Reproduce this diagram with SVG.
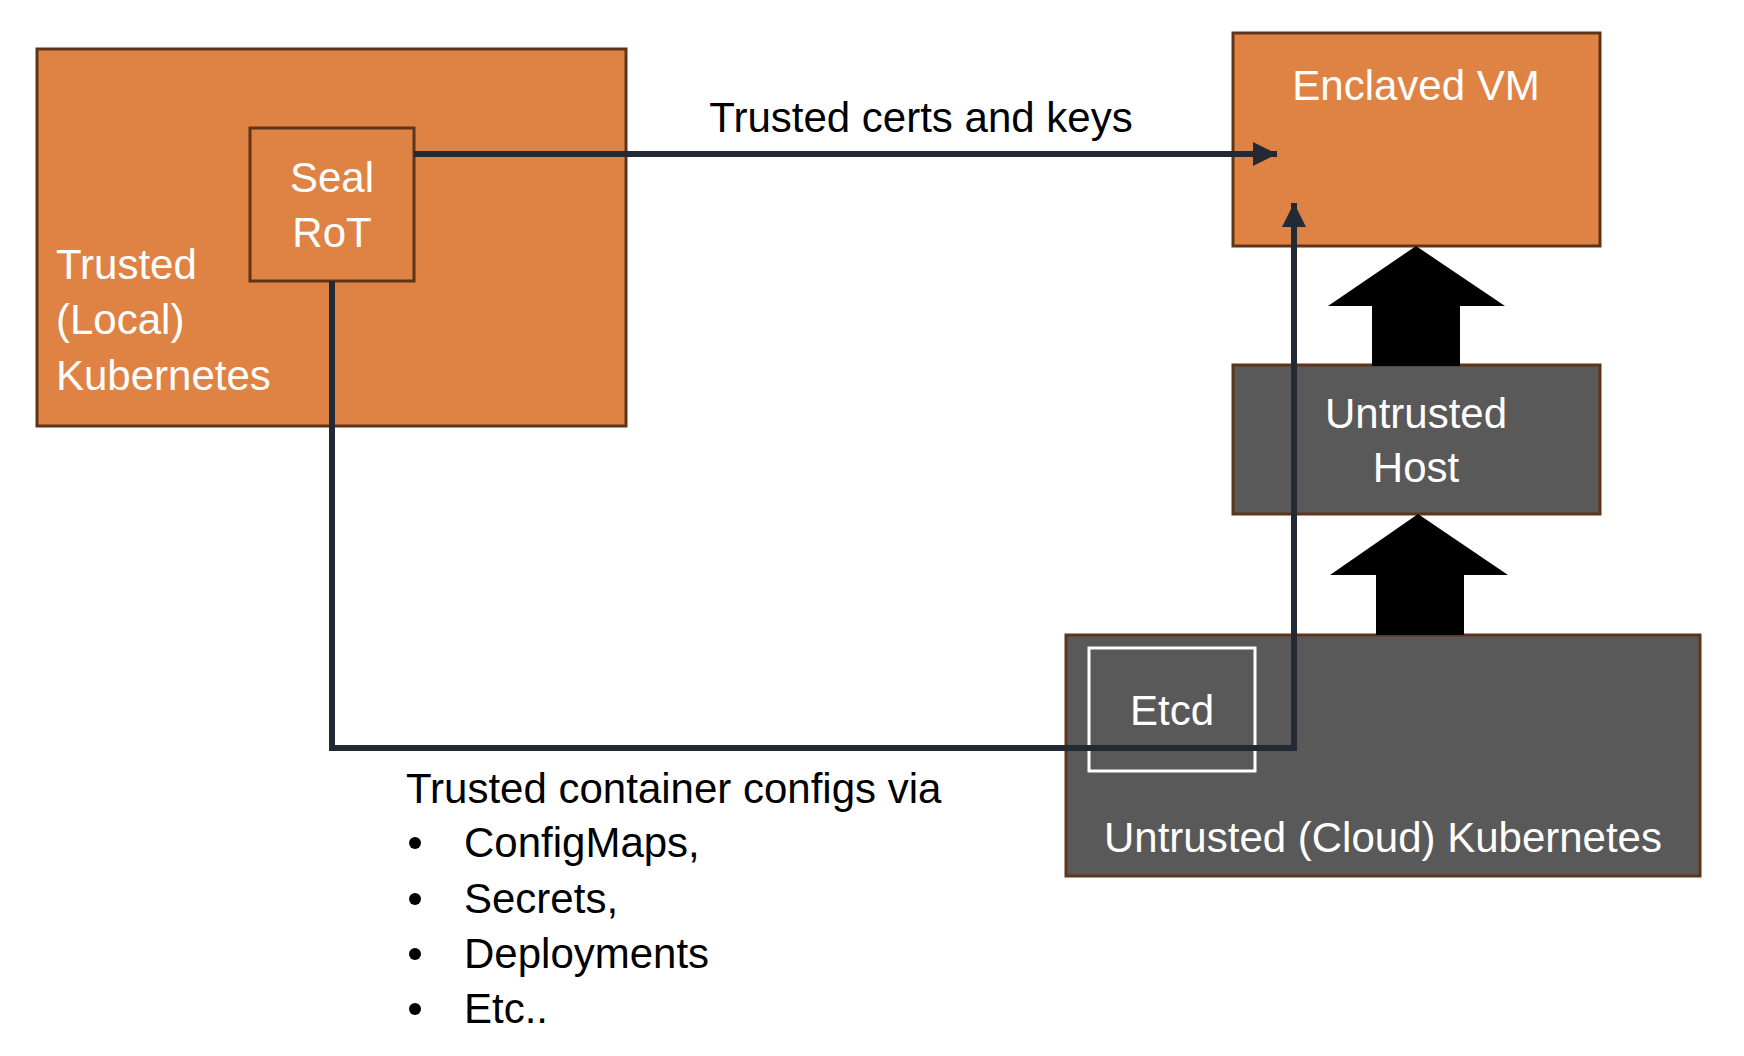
<svg xmlns="http://www.w3.org/2000/svg" width="1744" height="1056" viewBox="0 0 1744 1056">
<defs>
<style>
.orange{fill:#DF8344;stroke:#5E3518;stroke-width:3}
.gray{fill:#595959;stroke:#5E3518;stroke-width:3}
.wt{fill:#FFFFFF;font-family:"Liberation Sans",Arial,sans-serif;font-size:42px}
.bt{fill:#000000;font-family:"Liberation Sans",Arial,sans-serif;font-size:42px}
.conn{fill:none;stroke:#232A35;stroke-width:6}
.block{fill:#000000}
</style>
<marker id="ah" viewBox="0 0 10 10" refX="10" refY="5" markerWidth="4" markerHeight="4" markerUnits="strokeWidth" orient="auto">
<path d="M0,0 L10,5 L0,10 Z" fill="#232A35"/>
</marker>
</defs>
<rect width="1744" height="1056" fill="#FFFFFF"/>

<g id="trusted-local">
<rect class="orange" x="37" y="49" width="589" height="377"/>
<text class="wt" x="56" y="279">Trusted</text>
<text class="wt" x="56" y="334">(Local)</text>
<text class="wt" x="56" y="390">Kubernetes</text>
</g>

<g id="seal-rot">
<rect class="orange" x="250" y="128" width="164" height="153"/>
<text class="wt" x="332" y="192" text-anchor="middle">Seal</text>
<text class="wt" x="332" y="247" text-anchor="middle">RoT</text>
</g>

<g id="enclaved-vm">
<rect class="orange" x="1233" y="33" width="367" height="213"/>
<text class="wt" x="1416" y="100" text-anchor="middle">Enclaved VM</text>
</g>

<g id="untrusted-host">
<rect class="gray" x="1233" y="365" width="367" height="149"/>
<text class="wt" x="1416" y="428" text-anchor="middle">Untrusted</text>
<text class="wt" x="1416" y="482" text-anchor="middle">Host</text>
</g>

<g id="untrusted-cloud">
<rect class="gray" x="1066" y="635" width="634" height="241"/>
<text class="wt" x="1383" y="852" text-anchor="middle">Untrusted (Cloud) Kubernetes</text>
</g>

<g id="etcd">
<rect x="1089" y="648" width="166" height="123" fill="none" stroke="#FFFFFF" stroke-width="3"/>
<text class="wt" x="1172" y="725" text-anchor="middle">Etcd</text>
</g>

<g id="connectors">
<polygon class="block" points="1416,246 1505,306 1460,306 1460,366 1372,366 1372,306 1328,306"/>
<polygon class="block" points="1418,514 1508,575 1464,575 1464,635 1376,635 1376,575 1330,575"/>
<path class="conn" d="M414,154 L1277,154" marker-end="url(#ah)"/>
<path class="conn" d="M332,281 L332,748 L1294,748 L1294,203" stroke-linejoin="miter" marker-end="url(#ah)"/>
</g>

<g id="labels">
<text class="bt" x="921" y="132" text-anchor="middle">Trusted certs and keys</text>
<text class="bt" x="406" y="803">Trusted container configs via</text>
<g>
<circle cx="415" cy="843" r="6" fill="#000"/>
<circle cx="415" cy="899" r="6" fill="#000"/>
<circle cx="415" cy="954" r="6" fill="#000"/>
<circle cx="415" cy="1009" r="6" fill="#000"/>
</g>
<text class="bt" x="464" y="857">ConfigMaps,</text>
<text class="bt" x="464" y="913">Secrets,</text>
<text class="bt" x="464" y="968">Deployments</text>
<text class="bt" x="464" y="1023">Etc..</text>
</g>
</svg>
